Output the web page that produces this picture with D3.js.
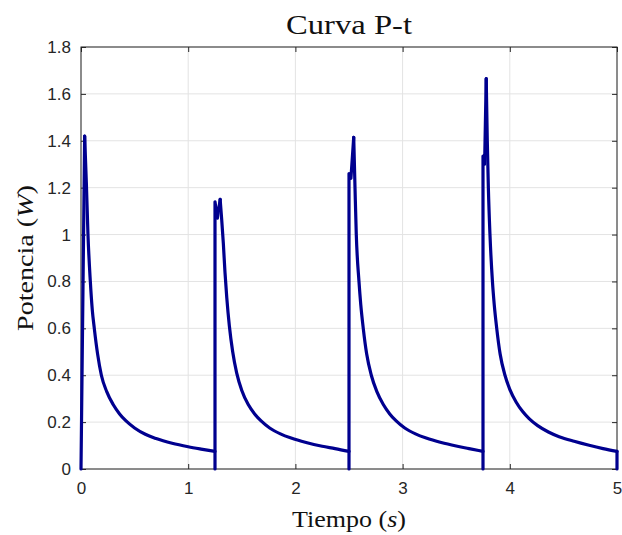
<!DOCTYPE html>
<html>
<head>
<meta charset="utf-8">
<script src="https://cdn.jsdelivr.net/npm/d3@7"></script>
<style>
  html, body { margin: 0; padding: 0; background: #fff; }
  svg { display: block; }
</style>
</head>
<body>
<div id="chart"></div>
<script>
// Curva P-t — four charge pulses.
// each pulse: [t (s), P (W)]
var pulse1 = [[0, 0], [0.034, 1.42], [0.05, 1.22], [0.065, 1.0], [0.087, 0.8],
  [0.105, 0.68], [0.124, 0.6], [0.155, 0.49], [0.19, 0.4], [0.24, 0.33],
  [0.3, 0.275], [0.36, 0.235], [0.42, 0.205], [0.5, 0.175], [0.6, 0.148],
  [0.7, 0.13], [0.85, 0.11], [1.0, 0.095], [1.12, 0.085], [1.25, 0.075]];
var pulse2 = [[1.25, 0], [1.25, 1.14], [1.272, 1.07], [1.298, 1.15], [1.313, 1.06],
  [1.328, 0.96], [1.343, 0.84], [1.36, 0.73], [1.384, 0.61], [1.415, 0.5],
  [1.452, 0.41], [1.5, 0.335], [1.56, 0.275], [1.62, 0.235], [1.68, 0.205],
  [1.76, 0.175], [1.86, 0.15], [1.96, 0.132], [2.1, 0.113], [2.25, 0.097],
  [2.37, 0.087], [2.5, 0.075]];
var pulse3 = [[2.5, 0], [2.5, 1.26], [2.518, 1.24], [2.544, 1.415], [2.556, 1.2],
  [2.568, 1.0], [2.593, 0.8], [2.61, 0.7], [2.633, 0.6], [2.665, 0.49],
  [2.708, 0.4], [2.76, 0.33], [2.82, 0.275], [2.88, 0.235], [2.94, 0.205],
  [3.02, 0.175], [3.12, 0.15], [3.22, 0.132], [3.36, 0.113], [3.5, 0.098],
  [3.62, 0.087], [3.75, 0.075]];
var pulse4 = [[3.75, 0], [3.75, 1.335], [3.765, 1.3], [3.78, 1.665], [3.79, 1.4],
  [3.80, 1.2], [3.815, 1.0], [3.838, 0.8], [3.855, 0.7], [3.878, 0.6],
  [3.91, 0.49], [3.955, 0.4], [4.0, 0.34], [4.06, 0.285], [4.12, 0.245],
  [4.18, 0.215], [4.26, 0.185], [4.36, 0.158], [4.46, 0.138], [4.6, 0.118],
  [4.74, 0.101], [4.87, 0.087], [5.0, 0.075]];
var endDrop = [[5.0, 0.075], [5.0, 0]];

var xTicks = [0, 1, 2, 3, 4, 5];
var yTicks = [0, 0.2, 0.4, 0.6, 0.8, 1, 1.2, 1.4, 1.6, 1.8];

var W = 622, H = 535;
var M = { t: 47, r: 5, b: 66, l: 81 };
var AX = "#262626", GRID = "#e3e3e3", LINE = "#00008f";

var svg = d3.select("#chart").append("svg").attr("width", W).attr("height", H);

var x = d3.scaleLinear().domain([0, 5]).range([M.l, W - M.r]);
var y = d3.scaleLinear().domain([0, 1.8]).range([H - M.b, M.t]);

// grid
var g = svg.append("g");
g.selectAll("line.gx").data(xTicks).enter().append("line")
  .attr("x1", function (d) { return x(d); }).attr("x2", function (d) { return x(d); })
  .attr("y1", y(0)).attr("y2", y(1.8))
  .attr("stroke", GRID).attr("stroke-width", 1);
g.selectAll("line.gy").data(yTicks).enter().append("line")
  .attr("y1", function (d) { return y(d); }).attr("y2", function (d) { return y(d); })
  .attr("x1", x(0)).attr("x2", x(5))
  .attr("stroke", GRID).attr("stroke-width", 1);

// axes (ticks inward, box on)
function styleAxis(a) {
  a.select(".domain").remove();
  a.selectAll("line").attr("stroke", AX);
  a.selectAll("text").attr("fill", AX)
    .style("font-family", "'Liberation Sans', Arial, sans-serif").style("font-size", "17px");
}
var fmt = function (d) { return d3.format("")(+d.toFixed(1)); };
var ax = svg.append("g").attr("transform", "translate(0," + y(0) + ")")
  .call(d3.axisBottom(x).tickValues(xTicks).tickFormat(fmt).tickSizeInner(-5).tickSizeOuter(0).tickPadding(13));
styleAxis(ax);
var ay = svg.append("g").attr("transform", "translate(" + x(0) + ",0)")
  .call(d3.axisLeft(y).tickValues(yTicks).tickFormat(fmt).tickSizeInner(-5).tickSizeOuter(0).tickPadding(10));
styleAxis(ay);
var axt = svg.append("g").attr("transform", "translate(0," + y(1.8) + ")")
  .call(d3.axisTop(x).tickValues(xTicks).tickFormat("").tickSizeInner(-5).tickSizeOuter(0));
styleAxis(axt);
var ayr = svg.append("g").attr("transform", "translate(" + x(5) + ",0)")
  .call(d3.axisRight(y).tickValues(yTicks).tickFormat("").tickSizeInner(-5).tickSizeOuter(0));
styleAxis(ayr);

svg.append("rect").attr("x", x(0)).attr("y", y(1.8))
  .attr("width", x(5) - x(0)).attr("height", y(0) - y(1.8))
  .attr("fill", "none").attr("stroke", AX).attr("stroke-width", 1);

// data: the jump up to each peak is straight, the decay after it is smooth
var lin = d3.line().x(function (d) { return x(d[0]); }).y(function (d) { return y(d[1]); });
var smooth = d3.line().curve(d3.curveMonotoneX)
  .x(function (d) { return x(d[0]); }).y(function (d) { return y(d[1]); });
var gData = svg.append("g").attr("fill", "none").attr("stroke", LINE)
  .attr("stroke-width", 3.2).attr("stroke-linejoin", "round").attr("stroke-linecap", "round");
var prevEnd = null;
[pulse1, pulse2, pulse3, pulse4].forEach(function (p) {
  var k = d3.maxIndex(p, function (d) { return d[1]; });
  var rise = (prevEnd ? [prevEnd] : []).concat(p.slice(0, k + 1));
  gData.append("path").attr("d", lin(rise));
  gData.append("path").attr("d", smooth(p.slice(k)));
  prevEnd = p[p.length - 1];
});
gData.append("path").attr("d", lin(endDrop));

// labels
var SERIF = "'Liberation Serif', 'DejaVu Serif', serif";
svg.append("text").attr("x", (x(0) + x(5)) / 2).attr("y", 34)
  .attr("text-anchor", "middle").attr("fill", "#111")
  .attr("textLength", 126).attr("lengthAdjust", "spacingAndGlyphs")
  .style("font-family", SERIF).style("font-size", "28px").text("Curva P-t");

var xl = svg.append("text").attr("x", (x(0) + x(5)) / 2).attr("y", 527)
  .attr("text-anchor", "middle").attr("fill", "#111")
  .attr("textLength", 114).attr("lengthAdjust", "spacingAndGlyphs")
  .style("font-family", SERIF).style("font-size", "23px");
xl.append("tspan").text("Tiempo (");
xl.append("tspan").style("font-style", "italic").text("s");
xl.append("tspan").text(")");

var yl = svg.append("text")
  .attr("transform", "translate(33," + ((y(0) + y(1.8)) / 2) + ") rotate(-90)")
  .attr("text-anchor", "middle").attr("fill", "#111")
  .attr("textLength", 146).attr("lengthAdjust", "spacingAndGlyphs")
  .style("font-family", SERIF).style("font-size", "23px");
yl.append("tspan").text("Potencia (");
yl.append("tspan").style("font-style", "italic").text("W");
yl.append("tspan").text(")");
</script>
</body>
</html>
